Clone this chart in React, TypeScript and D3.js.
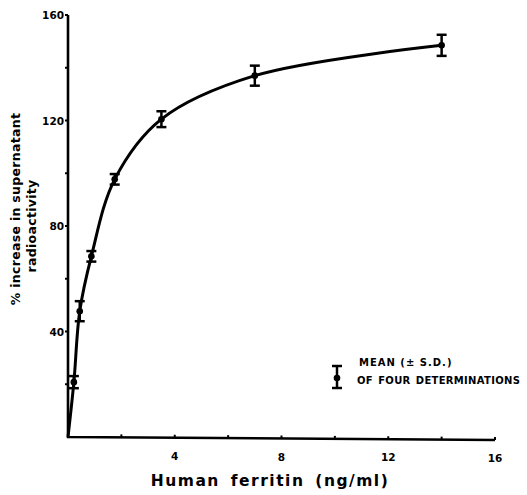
import React, { useEffect, useRef } from 'react';
import * as d3 from 'd3';

// ferritin dose (ng/ml), mean % increase, SD
const doses = [0.22, 0.44, 0.875, 1.75, 3.5, 7, 14];
const means = [20.8, 47.7, 68.5, 97.7, 120.5, 137, 148.5];
const sds = [2.3, 3.8, 2, 2, 3, 3.8, 4];

const xMajor = [4, 8, 12, 16];
const xMinor = [2, 6, 10, 14];
const yMajor = [40, 80, 120, 160];
const yMinor = [20, 60, 100, 140];

const App: React.FC = () => {
  const svgRef = useRef<SVGSVGElement>(null);

  useEffect(() => {
    const svg = d3.select(svgRef.current);
    svg.selectAll('*').remove();

    const x = d3.scaleLinear().domain([0, 16]).range([68, 495]);
    const y = d3.scaleLinear().domain([0, 160]).range([437, 15]);
    const font = '"DejaVu Sans", sans-serif';

    // axes
    svg.append('path')
      .attr('d', `M${x(0)},${y(160)} L${x(0)},${y(0)} L${x(16)},${y(0) + 3}`)
      .attr('fill', 'none')
      .attr('stroke', '#000')
      .attr('stroke-width', 2.6);

    // y ticks
    svg.selectAll('.ytick')
      .data([...yMajor, ...yMinor])
      .enter().append('line')
      .attr('x1', x(0) - 3).attr('x2', x(0))
      .attr('y1', d => y(d)).attr('y2', d => y(d))
      .attr('stroke', '#000').attr('stroke-width', 2);

    svg.selectAll('.ylab')
      .data(yMajor)
      .enter().append('text')
      .attr('x', x(0) - 4)
      .attr('y', d => y(d) + 4)
      .attr('text-anchor', 'end')
      .style('font-family', font)
      .style('font-weight', 'bold')
      .style('font-size', '10.5px')
      .text(d => d);

    // x ticks
    svg.selectAll('.xtick')
      .data([...xMajor, ...xMinor])
      .enter().append('line')
      .attr('x1', d => x(d)).attr('x2', d => x(d))
      .attr('y1', d => y(0) + 3 * d / 16 - 3)
      .attr('y2', d => y(0) + 3 * d / 16)
      .attr('stroke', '#000').attr('stroke-width', 2);

    svg.selectAll('.xlab')
      .data(xMajor)
      .enter().append('text')
      .attr('x', d => x(d))
      .attr('y', d => y(0) + 22 + 3 * d / 16)
      .attr('text-anchor', 'middle')
      .style('font-family', font)
      .style('font-weight', 'bold')
      .style('font-size', '10.5px')
      .text(d => d);

    // axis titles
    svg.append('text')
      .attr('x', 270).attr('y', 486)
      .attr('text-anchor', 'middle')
      .style('font-family', font)
      .style('font-weight', 'bold')
      .style('font-size', '15.5px')
      .style('letter-spacing', '1.5px')
      .style('word-spacing', '4px')
      .text('Human ferritin (ng/ml)');

    svg.append('text')
      .attr('transform', 'translate(20,209) rotate(-90)')
      .attr('text-anchor', 'middle')
      .style('font-family', font)
      .style('font-weight', 'bold')
      .style('font-size', '12.5px')
      .style('letter-spacing', '0.3px')
      .text('% increase in supernatant');

    svg.append('text')
      .attr('transform', 'translate(36,226) rotate(-90)')
      .attr('text-anchor', 'middle')
      .style('font-family', font)
      .style('font-weight', 'bold')
      .style('font-size', '12.5px')
      .style('letter-spacing', '0.3px')
      .text('radioactivity');

    // curve
    const pts: [number, number][] = [[0, 0], ...doses.map((d, i) => [d, means[i]] as [number, number])];
    const line = d3.line<[number, number]>()
      .x(d => x(d[0]))
      .y(d => y(d[1]))
      .curve(d3.curveCatmullRom.alpha(0.5));
    svg.append('path')
      .attr('d', line(pts) as string)
      .attr('fill', 'none')
      .attr('stroke', '#000')
      .attr('stroke-width', 3);

    // error bars
    const g = svg.append('g').attr('stroke', '#000').attr('stroke-width', 2.5);
    doses.forEach((d, i) => {
      const cx = x(d);
      const top = y(means[i] + sds[i]);
      const bot = y(means[i] - sds[i]);
      g.append('line').attr('x1', cx).attr('x2', cx).attr('y1', top).attr('y2', bot);
      g.append('line').attr('x1', cx - 5).attr('x2', cx + 5).attr('y1', top).attr('y2', top);
      g.append('line').attr('x1', cx - 5).attr('x2', cx + 5).attr('y1', bot).attr('y2', bot);
      svg.append('circle').attr('cx', cx).attr('cy', y(means[i])).attr('r', 3.3).attr('fill', '#000');
    });

    // legend
    const lg = svg.append('g').attr('stroke', '#000').attr('stroke-width', 2.5);
    lg.append('line').attr('x1', 337).attr('x2', 337).attr('y1', 366).attr('y2', 388);
    lg.append('line').attr('x1', 332).attr('x2', 342).attr('y1', 366).attr('y2', 366);
    lg.append('line').attr('x1', 332).attr('x2', 342).attr('y1', 388).attr('y2', 388);
    svg.append('circle').attr('cx', 337).attr('cy', 378).attr('r', 3.3).attr('fill', '#000');

    svg.append('text')
      .attr('x', 359).attr('y', 366)
      .style('font-family', font)
      .style('font-weight', 'bold')
      .style('font-size', '10px')
      .style('letter-spacing', '1px')
      .text('MEAN (± S.D.)');
    svg.append('text')
      .attr('x', 357).attr('y', 384)
      .style('font-family', font)
      .style('font-weight', 'bold')
      .style('font-size', '10px')
      .style('letter-spacing', '0.3px')
      .style('word-spacing', '1.5px')
      .text('OF FOUR DETERMINATIONS');
  }, []);

  return (
    <svg
      ref={svgRef}
      width={527}
      height={495}
      style={{ position: 'absolute', left: 0, top: 0, background: '#fff' }}
    />
  );
};

export default App;
